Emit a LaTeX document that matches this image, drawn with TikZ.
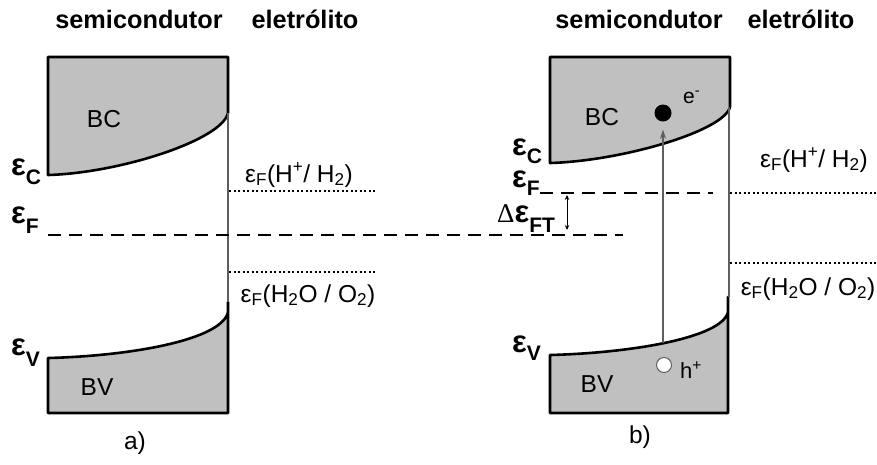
\documentclass[tikz,border=0pt]{standalone}
\usepackage{fontspec}
\setmainfont{Liberation Sans}
\newfontfamily\myserif{Liberation Serif}
\usetikzlibrary{arrows.meta}
\definecolor{bandgray}{RGB}{192,192,192}
\definecolor{linegray}{RGB}{95,95,95}
\newcommand{\myeps}[2][-9pt]{{\fontsize{31}{31}\selectfont\bfseries ε}\raisebox{#1}{\fontsize{21}{21}\selectfont\bfseries #2}}
\begin{document}
\begin{tikzpicture}[x=1pt,y=-1pt,
  bandfill/.style={fill=bandgray,draw=none},
  bandedge/.style={draw=black,line width=2.6pt,line join=round,line cap=round},
  thinline/.style={draw=linegray,line width=1.2pt},
  dotline/.style={draw=black,line width=2pt,dash pattern=on 2pt off 2.5pt},
  dashline/.style={draw=black,line width=2.7pt,dash pattern=on 13pt off 8pt},
  title/.style={font=\fontsize{25.3}{30}\selectfont\bfseries,inner sep=0pt,anchor=base},
  lbl/.style={font=\fontsize{24.5}{28}\selectfont,inner sep=0pt,anchor=base},
  sym/.style={inner sep=0pt,anchor=base west},
  small/.style={font=\fontsize{21}{24}\selectfont,inner sep=0pt,anchor=base west}
]
\useasboundingbox (0,0) rectangle (877,464);

% ---------------- panel a ----------------
\node[title] (ta1) at (139,28) {semicondutor};
\node[title] (ta2) at (305,28) {eletrólito};

% conduction band
\path[bandfill] (48,57) -- (228,57) -- (228,113) .. controls (222,140) and (120,173) .. (48,175) -- cycle;
\draw[bandedge] (228,113) -- (228,57) -- (48,57) -- (48,175) .. controls (120,173) and (222,140) .. (228,113);
% valence band
\path[bandfill] (48,358) .. controls (130,356) and (222,340) .. (228,312) -- (228,413) -- (48,413) -- cycle;
\draw[bandedge] (228,302) -- (228,413) -- (48,413) -- (48,358) .. controls (130,356) and (222,340) .. (228,312);
% interface
\draw[thinline] (228,113) -- (228,302);

\node[lbl] (bca) at (104,127) {BC};
\node[lbl] (bva) at (97,395) {BV};
\node[sym] (eca) at (11,175) {\myeps{C}};
\node[sym] (efa) at (11,223) {\myeps[-10pt]{F}};
\node[sym] (eva) at (11,355) {\myeps[-11pt]{V}};

% redox levels
\draw[dotline] (229,191) -- (377,191);
\draw[dotline] (229,272) -- (377,272);
\node[lbl] (hha) at (299,182) {ε\textsubscript{F}(H\textsuperscript{+}/ H\textsubscript{2})};
\node[lbl] (ooa) at (308,302) {ε\textsubscript{F}(H\textsubscript{2}O / O\textsubscript{2})};

% Fermi level (a)
\draw[dashline] (48,235) -- (623,235);

\node[lbl] (la) at (135,449) {a)};

% ---------------- panel b ----------------
\node[title] (tb1) at (639,28) {semicondutor};
\node[title] (tb2) at (801,28) {eletrólito};

\path[bandfill] (550,57) -- (730,57) -- (730,107) .. controls (724,131) and (622,161) .. (550,163) -- cycle;
\draw[bandedge] (730,107) -- (730,57) -- (550,57) -- (550,163) .. controls (622,161) and (724,131) .. (730,107);
\path[bandfill] (550,355) .. controls (630,353) and (722,338) .. (728,312) -- (728,413) -- (550,413) -- cycle;
\draw[bandedge] (728,297) -- (728,413) -- (550,413) -- (550,355) .. controls (630,353) and (722,338) .. (728,312);
\draw[thinline] (729,107) -- (729,297);

\node[lbl] (bcb) at (602,125) {BC};
\node[lbl] (bvb) at (597,392) {BV};
\node[sym] (ecb) at (512,155) {\myeps[-8pt]{C}};
\node[sym] (efb) at (512,187) {\myeps[-8pt]{F}};
\node[sym] (evb) at (512,352) {\myeps[-8pt]{V}};

\draw[dotline] (730,193) -- (877,193);
\draw[dotline] (730,263) -- (877,263);
\node[lbl] (hhb) at (814,167) {ε\textsubscript{F}(H\textsuperscript{+}/ H\textsubscript{2})};
\node[lbl] (oob) at (808,295) {ε\textsubscript{F}(H\textsubscript{2}O / O\textsubscript{2})};

% quasi Fermi level (b)
\draw[dashline] (540,193) -- (713,193);
\node[sym] (dft) at (497,222) {{\myserif\fontsize{27}{27}\selectfont Δ}\myeps[-10pt]{FT}};
\coordinate (dA) at (567,195);
\coordinate (dB) at (567,230);
\draw[line width=0.9pt,{Stealth[length=5pt,width=4.5pt]}-{Stealth[length=5pt,width=4.5pt]}] (dA) -- (dB);

% electron and hole
\node[circle,fill=black,minimum size=17pt,inner sep=0pt] (el) at (663,113) {};
\node[small] (elab) at (683,103) {e\textsuperscript{-}};
\node[circle,draw=linegray,fill=white,line width=1pt,minimum size=15pt,inner sep=0pt] (hole) at (664,365) {};
\node[small,font=\fontsize{22}{24}\selectfont] (hlab) at (680,378) {h\textsuperscript{+}};
\coordinate (exc) at (663,343);
\draw[draw=linegray,line width=1.2pt,-{Stealth[length=9pt,width=6pt]}] (exc) -- ([yshift=-8pt]el.south);

\node[lbl] (lb) at (640,443) {b)};
\end{tikzpicture}
\end{document}
